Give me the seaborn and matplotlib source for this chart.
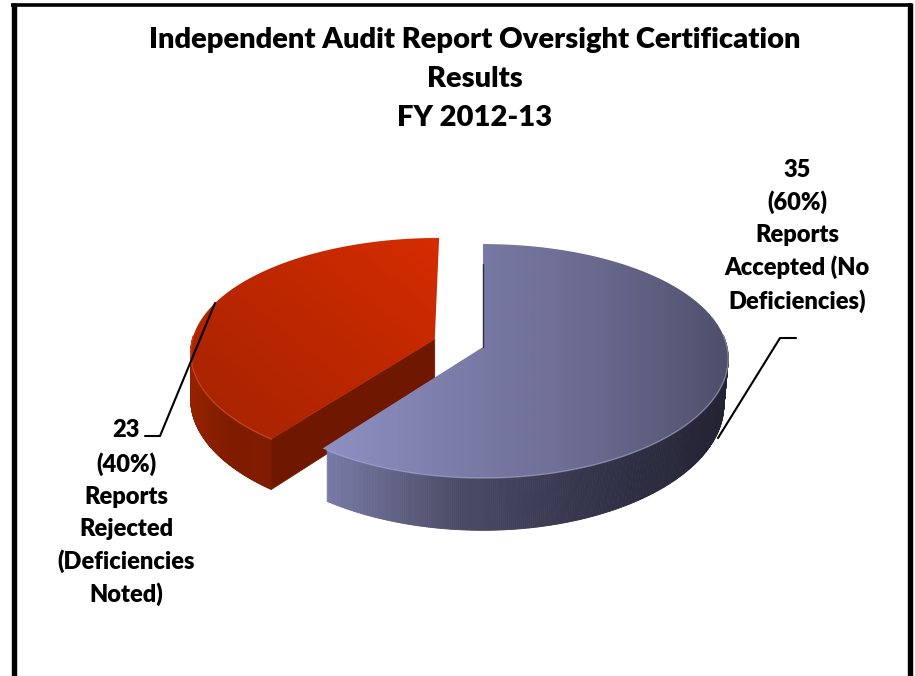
# -*- coding: utf-8 -*-
import numpy as np
import matplotlib
matplotlib.use("Agg")
import matplotlib.pyplot as plt
from matplotlib.collections import PolyCollection
from matplotlib.patches import Polygon
from matplotlib.colors import LinearSegmentedColormap
import seaborn as sns

# Dados
titulo = ["Independent Audit Report Oversight Certification", "Results", "FY 2012-13"]
categorias = ["Reports Accepted (No Deficiencies)", "Reports Rejected (Deficiencies Noted)"]
valores = [35, 23]
explode = [0, 0.21]
rotulo_aceito = ["35", "(60%)", "Reports", "Accepted (No", "Deficiencies)"]
rotulo_rejeitado = ["23", "(40%)", "Reports", "Rejected", "(Deficiencies", "Noted)"]

# Perspectiva do disco
CX, CY = 483, 347
A, B, K, KX = 244, 115.3, 0.12, 0.10
PROF = 46


def projeta(x, y, z=0.0):
    w = 1 + K * y
    encolhe = np.where(np.asarray(x) > 0, 1 - 0.018 * z, 1.0)
    return CX + A * x / (1 + KX * y) * encolhe, CY - B * y / w + PROF * z / w


def contorno(cunha, n=500):
    t = np.linspace(cunha.theta1, cunha.theta2, n)
    r = np.radians(t)
    return t % 360, cunha.center[0] + np.cos(r), cunha.center[1] + np.sin(r)


def degrade(ax, pts, cores, diagonal=False, zorder=3):
    # preenche a face com gradiente, recortado pelo poligono
    xs, ys = pts[:, 0], pts[:, 1]
    cmap = LinearSegmentedColormap.from_list("g", cores)
    xx, yy = np.meshgrid(np.linspace(0, 1, 300), np.linspace(0, 1, 300))
    img = (xx + (1 - yy)) / 2 if diagonal else xx
    im = ax.imshow(img, cmap=cmap, vmin=0, vmax=1, aspect="auto", origin="upper",
                   extent=(xs.min(), xs.max(), ys.max(), ys.min()), zorder=zorder)
    mask = Polygon(pts, closed=True, transform=ax.transData, fc="none", ec="none")
    ax.add_patch(mask)
    im.set_clip_path(mask)


def parede(ax, x, y, cores, zorder=2):
    # parede lateral em tiras verticais
    px0, py0 = projeta(x, y, 0)
    px1, py1 = projeta(x, y, 1)
    pal = sns.blend_palette(cores, 256)
    u = (px0 - px0.min()) / (px0.max() - px0.min())
    quads = [[(px0[i], py0[i]), (px0[i + 1], py0[i + 1]), (px1[i + 1], py1[i + 1]), (px1[i], py1[i])]
             for i in range(len(x) - 1)]
    fc = [pal[int(u[i] * 255)] for i in range(len(x) - 1)]
    ax.add_collection(PolyCollection(quads, facecolors=fc, edgecolors=fc, linewidths=0.6, zorder=zorder))


sns.set_theme(style="white")
plt.rcParams["font.family"] = ["Lato", "DejaVu Sans"]

fig = plt.figure(figsize=(9.15, 6.76), dpi=100, facecolor="white")
ax = fig.add_axes([0, 0, 1, 1])

fatias, _ = ax.pie(valores, explode=explode, startangle=90, counterclock=False, radius=1)
aceito, rejeitado = fatias
ta, xa, ya = contorno(aceito)
tr, xr, yr = contorno(rejeitado)
ca, cr = aceito.center, rejeitado.center
for f in fatias:
    f.remove()

# fatia vermelha
vis = np.where(tr >= 178)[0]
parede(ax, xr[vis], yr[vis], ["#952200", "#7f1c00", "#801c00"])
cx0, cy0 = projeta(cr[0], cr[1], 0)
cx1, cy1 = projeta(cr[0], cr[1], 1)
# face do corte da fatia vermelha
idx = np.argmin(np.abs(tr - 234))
tx0, ty0 = projeta(xr[idx], yr[idx], 0)
tx1, ty1 = projeta(xr[idx], yr[idx], 1)
ax.add_patch(Polygon([(cx0, cy0), (tx0, ty0), (tx1, ty1), (cx1, cy1)], fc="#701700", ec="#701700", lw=0.5, zorder=2.5))
px, py = projeta(np.r_[xr, cr[0]], np.r_[yr, cr[1]])
degrade(ax, np.c_[px, py], ["#a52300", "#bb2700", "#d62c00"], diagonal=True)
bx, by = projeta(xr[vis], yr[vis])
ax.plot(bx, by, color="#d0502c", lw=1.0, alpha=0.7, zorder=4)

# fatia azul: arco visivel, do corte ate a borda direita
rel = (ta - 234) % 360
ordem = np.where(rel <= 132)[0]
ordem = ordem[np.argsort(rel[ordem])]
parede(ax, xa[ordem], ya[ordem], ["#787aa6", "#4a4a63", "#33334a", "#232333"], zorder=5)
px, py = projeta(np.r_[xa, ca[0]], np.r_[ya, ca[1]])
degrade(ax, np.c_[px, py], ["#8e90c2", "#7b7ca8", "#6a6a90", "#4f4f6c"], zorder=6)
bx, by = projeta(xa[ordem], ya[ordem])
ax.plot(bx, by, color="#a8a9d4", lw=1.0, alpha=0.6, zorder=7)
x0, y0 = projeta(ca[0], 1)
x1, y1 = projeta(ca[0], ca[1])
ax.plot([x0 - 0.5, x1 - 0.5], [y0 + 20, y1], color="#2c2c40", lw=1.0, zorder=7)

# linhas de chamada
ax.plot([215, 160, 145], [303, 436, 436], color="black", lw=1.5, zorder=8)
ax.plot([718, 780, 796], [438, 338, 338], color="black", lw=1.5, zorder=8)

# textos
for linha, y in zip(titulo, [40, 79, 118]):
    ax.text(475, y, linha, ha="center", va="center", fontsize=21, fontweight="heavy", color="black")
for linha, y in zip(rotulo_aceito, [170, 202, 235, 267, 301]):
    ax.text(797, y, linha, ha="center", va="center", fontsize=17, fontweight="heavy", color="black")
for linha, y in zip(rotulo_rejeitado, [430, 464, 497, 529, 561, 594]):
    ax.text(126, y, linha, ha="center", va="center", fontsize=17, fontweight="heavy", color="black")

# moldura (aberta embaixo)
ax.plot([13.5, 13.5], [676, 3], color="black", lw=3.9, solid_capstyle="butt", zorder=9)
ax.plot([11, 912], [4.5, 4.5], color="black", lw=2.6, solid_capstyle="butt", zorder=9)
ax.plot([909.5, 909.5], [676, 3], color="black", lw=3.9, solid_capstyle="butt", zorder=9)

ax.set_xlim(0, 915)
ax.set_ylim(676, 0)
ax.set_aspect("auto")
ax.axis("off")
fig.savefig("out.png", dpi=100)
